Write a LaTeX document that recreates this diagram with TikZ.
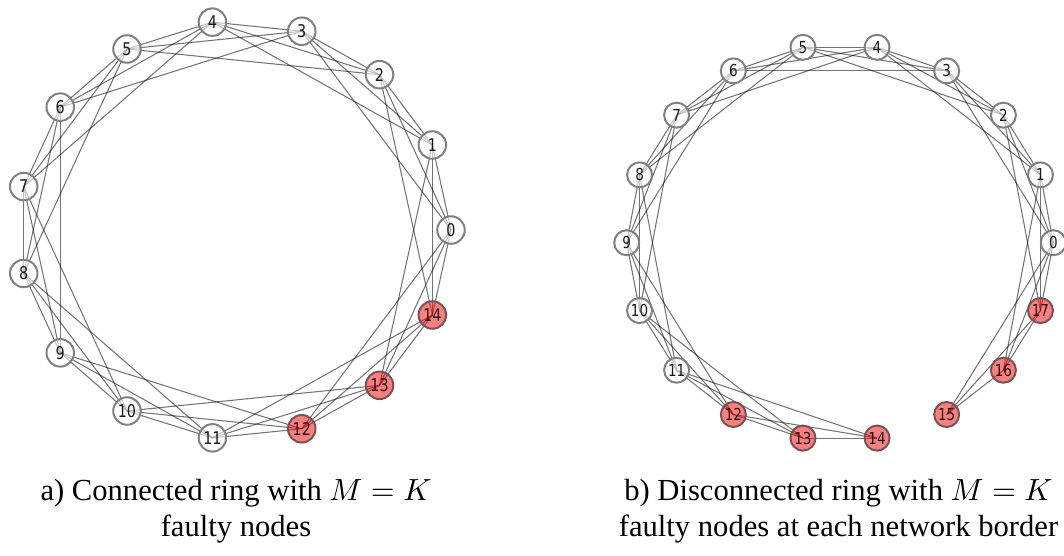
\documentclass[tikz,border=0pt]{standalone}
\usepackage{fontspec}
\usepackage{graphicx}
\setmainfont{Liberation Serif}
\newfontfamily\labfont{DejaVu Sans}
\DeclareFontShape{OML}{cmm}{m}{it}{<->cmmi10}{}
\DeclareFontShape{OMS}{cmsy}{m}{n}{<->cmsy10}{}
\DeclareFontShape{OT1}{cmr}{m}{n}{<->cmr10}{}
\usetikzlibrary{backgrounds}
\definecolor{nodeline}{RGB}{128,128,128}
\definecolor{faultline}{RGB}{115,85,85}
\definecolor{faultfill}{RGB}{255,0,0}
\definecolor{labcol}{RGB}{25,25,25}
\tikzset{
  nd/.style={circle, draw=nodeline, line width=2pt, fill=white, fill opacity=0.6,
    text opacity=1, text=labcol, inner sep=0pt, minimum size=27.5pt,
    font=\labfont\fontsize{17.5}{17.5}\selectfont},
  ndr/.style={nd, minimum size=25pt, font=\labfont\fontsize{16.5}{16.5}\selectfont},
  fault/.style={fill=faultfill, fill opacity=0.5, draw=faultline},
  edge/.style={draw=black, opacity=0.55, line width=1.05pt},
  captext/.style={font=\fontsize{30.6}{36}\selectfont, inner sep=0pt, anchor=base}
}
\begin{document}
\begin{tikzpicture}[x=1pt, y=-1pt]
\useasboundingbox (0,0) rectangle (1064,556);
% left ring
\foreach \i in {0,...,14}{
  \pgfmathsetmacro\px{235+216*cos(24*\i)}
  \pgfmathsetmacro\py{230-209*sin(24*\i)}
  \ifnum\i>11
    \node[nd, fault] (L\i) at (\px,\py) {\scalebox{0.82}[1]{\i}};
  \else
    \node[nd] (L\i) at (\px,\py) {\scalebox{0.82}[1]{\i}};
  \fi
}
% right ring
\foreach \i in {0,...,17}{
  \pgfmathsetmacro\px{840+213.3*cos(20*\i)}
  \pgfmathsetmacro\py{242.7-198.4*sin(20*\i)}
  \ifnum\i>11
    \node[ndr, fault] (R\i) at (\px,\py) {\scalebox{0.82}[1]{\i}};
  \else
    \node[ndr] (R\i) at (\px,\py) {\scalebox{0.82}[1]{\i}};
  \fi
}
\begin{scope}[on background layer]
\foreach \i in {0,...,14}{
  \foreach \d in {1,2,3}{
    \pgfmathtruncatemacro\j{mod(\i+\d,15)}
    \draw[edge] (L\i.center) -- (L\j.center);
  }
}
\foreach \i in {0,...,17}{
  \foreach \d in {1,2,3}{
    \pgfmathtruncatemacro\s{\i+\d}
    \pgfmathtruncatemacro\j{mod(\s,18)}
    \pgfmathtruncatemacro\sk{and(\i<15,\s>14)}
    \ifnum\sk=0
      \draw[edge] (R\i.center) -- (R\j.center);
    \fi
  }
}
\end{scope}
% captions
\node[captext] (ca1) at (236,500.5) {a) Connected ring with $M = K$};
\node[captext] (ca2) at (236,536.7) {faulty nodes};
\node[captext] (cb1) at (838.5,500.5) {b) Disconnected ring with $M = K$};
\node[captext] (cb2) at (838.5,536.7) {faulty nodes at each network border};
\end{tikzpicture}
\end{document}
